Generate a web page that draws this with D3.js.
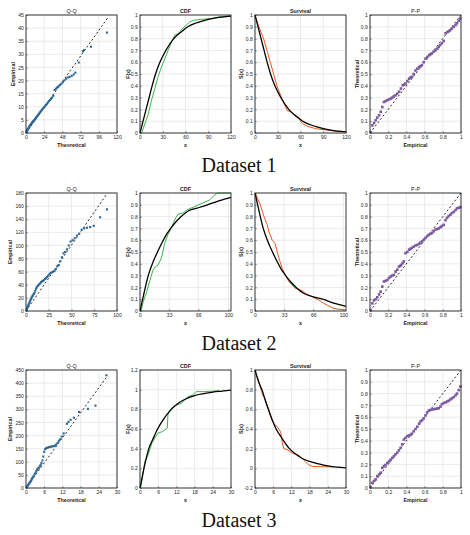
<!DOCTYPE html>
<html>
<head>
<meta charset="utf-8">
<script src="https://cdnjs.cloudflare.com/ajax/libs/d3/7.8.5/d3.min.js"></script>
<style>
  body { margin: 0; background: #fff; }
</style>
</head>
<body>
<div id="vis"></div>
<script>
// ---------------- data ----------------
const datasetNames = ['Dataset 1', 'Dataset 2', 'Dataset 3']
const panelTitles = ['Q-Q', 'CDF', 'Survival', 'P-P']

const unitTicks = [0, 0.1, 0.2, 0.3, 0.4, 0.5, 0.6, 0.7, 0.8, 0.9, 1]
const ppXTicks = [0, 0.2, 0.4, 0.6, 0.8, 1]

// Dataset 1
const qq1XTicks = [0, 24, 48, 72, 96, 120]
const qq1YTicks = [0, 5, 10, 15, 20, 25, 30, 35, 40, 45]
const qq1Ref = [[0, 0], [108, 44]]
const qq1Theoretical = [0.5, 1, 1.5, 2, 2.5, 3, 3.6, 4.2, 4.8, 5.4, 6, 6.7, 7.4, 8.1, 8.8, 9.5, 10.3, 11.1, 11.9, 12.7, 13.6, 14.5, 15.4, 16.3, 17.3, 18.3, 19.3, 20.4, 21.5, 22.6, 23.8, 25, 26.2, 27.5, 28.8, 30.2, 31.6, 33, 34.5, 36, 37.7, 39.4, 41.1, 42.9, 44.7, 46.6, 48.6, 50.7, 52.9, 55.2, 57.6, 60.2, 62.9, 65.1, 69.5, 75, 76.5, 85.7, 106.8]
const qq1Empirical = [0.3, 0.6, 0.9, 1.2, 1.5, 1.7, 2.0, 2.3, 2.6, 2.9, 3.1, 3.4, 3.7, 4.0, 4.2, 4.5, 4.7, 5.0, 5.3, 5.6, 6.0, 6.3, 6.6, 7.0, 7.4, 7.8, 8.2, 8.6, 9.0, 9.4, 9.8, 10.2, 10.7, 11.1, 11.6, 12.1, 12.6, 13.1, 13.5, 14.2, 16.4, 16.9, 17.4, 17.8, 18.3, 18.8, 19.4, 20.1, 20.7, 21.2, 21.4, 21.8, 22.3, 23.0, 26.9, 31.2, 31.6, 32.9, 38.3]
const cdf1XTicks = [0, 30, 60, 90, 120]
const cdf1ModelX = [0, 4, 8, 12, 16, 20.5, 25, 30, 35, 44.5, 55, 63, 73, 83, 100, 120]
const cdf1ModelF = [0, 0.1, 0.2, 0.3, 0.4, 0.5, 0.58, 0.65, 0.71, 0.8, 0.86, 0.9, 0.93, 0.95, 0.975, 0.99]
const cdf1EmpX = [2.2, 6.5, 10.9, 15.3, 19.7, 24, 28.4, 32.8, 37, 41.5, 45.9, 50.2, 56.8, 61, 65.5, 72, 80.8, 93.9, 107, 119]
const cdf1EmpF = [0, 0.08, 0.16, 0.28, 0.38, 0.48, 0.56, 0.63, 0.7, 0.77, 0.83, 0.84, 0.89, 0.915, 0.94, 0.957, 0.963, 0.97, 0.986, 0.994]
const surv1ModelS = [1, 0.9, 0.8, 0.7, 0.6, 0.5, 0.42, 0.35, 0.29, 0.2, 0.14, 0.1, 0.07, 0.05, 0.025, 0.01]
const surv1EmpX = [0, 0.9, 5.1, 11.8, 16.2, 20.6, 25, 29.4, 33.8, 38.2, 42.6, 47, 51.5, 58, 62.5, 69, 80, 97.6, 117]
const surv1EmpS = [1, 0.98, 0.9, 0.79, 0.69, 0.59, 0.49, 0.39, 0.32, 0.25, 0.19, 0.18, 0.15, 0.12, 0.08, 0.057, 0.037, 0.023, 0.008]
const pp1Empirical = [0.007, 0.026, 0.045, 0.062, 0.08, 0.1, 0.118, 0.135, 0.153, 0.17, 0.19, 0.21, 0.23, 0.245, 0.26, 0.28, 0.3, 0.32, 0.34, 0.36, 0.375, 0.39, 0.41, 0.43, 0.445, 0.46, 0.48, 0.5, 0.52, 0.54, 0.555, 0.57, 0.59, 0.61, 0.63, 0.65, 0.665, 0.68, 0.7, 0.72, 0.74, 0.755, 0.77, 0.79, 0.81, 0.83, 0.85, 0.865, 0.88, 0.9, 0.92, 0.94, 0.956, 0.975, 0.99]
const pp1Theoretical = [0.008, 0.065, 0.085, 0.108, 0.13, 0.15, 0.18, 0.22, 0.263, 0.27, 0.278, 0.285, 0.292, 0.3, 0.31, 0.32, 0.334, 0.35, 0.377, 0.405, 0.41, 0.42, 0.44, 0.46, 0.47, 0.476, 0.5, 0.53, 0.545, 0.56, 0.565, 0.575, 0.6, 0.63, 0.645, 0.66, 0.668, 0.674, 0.69, 0.7, 0.715, 0.73, 0.745, 0.76, 0.78, 0.845, 0.855, 0.862, 0.87, 0.885, 0.9, 0.915, 0.93, 0.95, 0.97]

// Dataset 2
const qq2XTicks = [0, 25, 50, 75, 100]
const qq2YTicks = [0, 20, 40, 60, 80, 100, 120, 140, 160, 180]
const qq2Ref = [[0, 0], [89, 179]]
const qq2Theoretical = [0.5, 1, 1.5, 2, 2.6, 3.2, 3.8, 4.4, 5, 5.7, 6.4, 7.1, 7.8, 8.6, 9.4, 10.2, 11, 11.8, 12.7, 13.6, 14.5, 15.5, 16.5, 17.5, 18.6, 19.7, 20.8, 22, 23.2, 24.4, 25.7, 27, 28.4, 29.8, 31.3, 32.8, 34.4, 36, 37.7, 39.4, 41.2, 43, 45, 47, 49, 51.2, 53.5, 56, 58.5, 61.2, 64, 67, 70.5, 74.5, 81.5, 89]
const qq2Empirical = [1, 3, 5, 7, 9, 11, 13, 15, 17, 19, 21, 23, 24, 26, 28, 31, 34, 36, 38, 39, 41, 42, 44, 45, 46, 47, 49, 50, 52, 54, 56, 58, 59, 60, 61, 64, 68, 70, 76, 82, 88, 90, 94, 100, 106, 108, 111, 115, 118, 124, 126, 127, 128, 130, 143, 155]
const cdf2XTicks = [0, 33, 66, 100]
const cdf2ModelX = [0, 3, 9.3, 15, 19.8, 25, 30, 34.7, 40, 46.6, 55, 66, 76.5, 90, 103]
const cdf2ModelF = [0, 0.1, 0.3, 0.42, 0.5, 0.58, 0.65, 0.7, 0.75, 0.8, 0.85, 0.875, 0.9, 0.935, 0.963]
const cdf2EmpX = [1.1, 3.7, 7.5, 11.2, 14.9, 16.8, 20.5, 24.3, 28, 31.7, 35.4, 39.2, 42.9, 48.5, 54, 63.4, 70.9, 78.4, 84, 87.7, 103]
const cdf2EmpF = [0, 0.08, 0.16, 0.26, 0.35, 0.37, 0.39, 0.45, 0.575, 0.65, 0.7, 0.77, 0.82, 0.83, 0.86, 0.89, 0.915, 0.94, 0.98, 1, 1]
const surv2ModelS = [1, 0.9, 0.7, 0.58, 0.5, 0.42, 0.35, 0.3, 0.25, 0.2, 0.15, 0.12, 0.1, 0.065, 0.04]
const surv2EmpX = [0, 0.75, 3.8, 6.4, 10.2, 13.9, 15.8, 19.5, 22.6, 25.2, 27.8, 30.8, 34.6, 38.3, 42.1, 45.9, 51.5, 57.1, 64.7, 72.2, 77.8, 81.6, 87.2, 92.9, 103]
const surv2EmpS = [1, 0.99, 0.94, 0.89, 0.8, 0.73, 0.67, 0.6, 0.575, 0.5, 0.43, 0.36, 0.3, 0.25, 0.22, 0.19, 0.18, 0.15, 0.12, 0.093, 0.065, 0.05, 0.028, 0.017, 0.008]
const pp2Empirical = [0.007, 0.026, 0.044, 0.062, 0.08, 0.1, 0.117, 0.135, 0.153, 0.17, 0.19, 0.21, 0.226, 0.245, 0.263, 0.28, 0.3, 0.318, 0.333, 0.343, 0.358, 0.372, 0.39, 0.41, 0.43, 0.445, 0.46, 0.48, 0.5, 0.52, 0.54, 0.555, 0.573, 0.59, 0.61, 0.63, 0.646, 0.665, 0.68, 0.7, 0.72, 0.74, 0.755, 0.775, 0.79, 0.81, 0.83, 0.847, 0.865, 0.883, 0.9, 0.92, 0.94, 0.956, 0.975, 0.993]
const pp2Theoretical = [0.008, 0.065, 0.09, 0.1, 0.116, 0.14, 0.164, 0.207, 0.25, 0.255, 0.263, 0.28, 0.292, 0.3, 0.306, 0.334, 0.35, 0.377, 0.382, 0.39, 0.405, 0.42, 0.49, 0.5, 0.52, 0.527, 0.535, 0.545, 0.555, 0.56, 0.57, 0.58, 0.59, 0.605, 0.62, 0.635, 0.646, 0.655, 0.66, 0.675, 0.69, 0.695, 0.7, 0.71, 0.72, 0.73, 0.77, 0.79, 0.805, 0.816, 0.83, 0.84, 0.855, 0.87, 0.875, 0.88]

// Dataset 3
const qq3XTicks = [0, 6, 12, 18, 24, 30]
const qq3YTicks = [0, 50, 100, 150, 200, 250, 300, 350, 400, 450]
const qq3Ref = [[0, 0], [26.5, 422]]
const qq3Theoretical = [0.2, 0.4, 0.6, 0.8, 1, 1.2, 1.4, 1.6, 1.8, 2, 2.2, 2.5, 2.8, 3.1, 3.4, 3.6, 3.9, 4.2, 4.5, 4.8, 5.1, 5.4, 5.7, 6, 6.3, 6.6, 6.9, 7.2, 7.6, 8, 8.4, 8.8, 9.2, 9.6, 10, 10.4, 10.8, 11.3, 11.8, 12.4, 13.5, 14, 14.7, 15.8, 17.5, 20.4, 22.9, 26.5]
const qq3Empirical = [3, 6, 10, 13, 17, 20, 23, 27, 31, 36, 40, 45, 52, 58, 64, 70, 74, 77, 82, 88, 95, 105, 120, 138, 148, 151, 153, 154, 156, 157, 158, 159, 160, 162, 166, 172, 180, 186, 196, 208, 245, 252, 260, 268, 290, 302, 314, 430]
const cdf3XTicks = [0, 6, 12, 18, 24, 30]
const cdf3YTicks = [0, 0.2, 0.4, 0.6, 0.8, 1, 1.2]
const surv3YTicks = [-0.2, 0, 0.2, 0.4, 0.6, 0.8, 1]
const cdf3ModelX = [0, 1.3, 2.9, 4.3, 5.8, 8, 10.3, 12.5, 14.7, 18, 21, 24, 27, 30]
const cdf3ModelF = [0, 0.2, 0.4, 0.5, 0.6, 0.71, 0.8, 0.86, 0.9, 0.94, 0.96, 0.975, 0.985, 0.995]
const cdf3EmpX = [0.2, 0.8, 1.6, 2.5, 3.3, 4, 5.1, 6, 7.1, 8.2, 9, 9.2, 9.6, 10.3, 12, 13.6, 14.7, 15.8, 17.4, 18.5, 21.2, 23.9, 26.1]
const cdf3EmpF = [0, 0.1, 0.27, 0.32, 0.4, 0.46, 0.52, 0.56, 0.57, 0.59, 0.61, 0.74, 0.78, 0.81, 0.845, 0.86, 0.895, 0.93, 0.945, 0.98, 0.98, 0.985, 0.99]
const surv3ModelX = [0, 1.2, 2.4, 3.4, 4.4, 5.6, 6.8, 9, 11.2, 13.4, 15.6, 18, 21, 24, 27, 30]
const surv3ModelS = [1, 0.88, 0.79, 0.69, 0.6, 0.5, 0.41, 0.3, 0.205, 0.145, 0.1, 0.07, 0.045, 0.025, 0.012, 0.004]
const surv3EmpX = [0, 0.4, 1.1, 1.5, 2.2, 2.7, 3.3, 3.8, 4.4, 5, 5.7, 6.6, 7.3, 8.1, 8.5, 9, 9.5, 10.6, 12.3, 13.4, 14.5, 15.6, 16.7, 17.7, 18.8, 22.1, 25.4]
const surv3EmpS = [1, 0.95, 0.9, 0.85, 0.78, 0.73, 0.71, 0.66, 0.61, 0.54, 0.48, 0.44, 0.425, 0.39, 0.36, 0.26, 0.2, 0.19, 0.155, 0.145, 0.13, 0.1, 0.063, 0.037, 0.02, 0.016, 0.016]
const pp3Empirical = [0.007, 0.026, 0.044, 0.062, 0.08, 0.1, 0.117, 0.135, 0.153, 0.17, 0.19, 0.21, 0.226, 0.245, 0.263, 0.28, 0.3, 0.318, 0.336, 0.354, 0.372, 0.39, 0.41, 0.43, 0.445, 0.46, 0.48, 0.5, 0.52, 0.54, 0.555, 0.573, 0.59, 0.61, 0.628, 0.645, 0.66, 0.68, 0.7, 0.72, 0.74, 0.755, 0.775, 0.79, 0.81, 0.83, 0.847, 0.865, 0.883, 0.9, 0.92, 0.94, 0.956, 0.975, 0.993]
const pp3Theoretical = [0.008, 0.045, 0.06, 0.073, 0.1, 0.115, 0.13, 0.17, 0.185, 0.195, 0.213, 0.225, 0.24, 0.255, 0.27, 0.285, 0.3, 0.32, 0.34, 0.37, 0.41, 0.425, 0.44, 0.445, 0.45, 0.46, 0.48, 0.5, 0.52, 0.545, 0.565, 0.575, 0.59, 0.615, 0.64, 0.655, 0.66, 0.665, 0.668, 0.67, 0.673, 0.677, 0.69, 0.71, 0.72, 0.725, 0.733, 0.74, 0.75, 0.76, 0.77, 0.785, 0.8, 0.83, 0.86]

// ---------------- layout / style ----------------
const outerWidth = 470
const outerHeight = 535
const colLeft = [26, 140, 255, 370]
const rowTop = [15, 193, 370]
const panelW = 91
const panelH = 118

const blue = '#2c6797'
const green = '#39b54a'
const orange = '#e8571f'
const purple = '#7d5aa0'
const gridGray = '#e2e2e2'
const frameColor = '#262626'
const textColor = '#222222'
const sans = 'Liberation Sans, Arial, Helvetica, sans-serif'

const zip = (a, b) => a.map((v, i) => [v, b[i]])
const fmt = d => String(+d.toFixed(2))

const svg = d3.select('#vis')
  .append('svg')
  .attr('width', outerWidth)
  .attr('height', outerHeight)

svg.append('rect')
  .attr('width', outerWidth)
  .attr('height', outerHeight)
  .style('fill', '#fff')

function drawPanel(o) {
  const g = svg.append('g').attr('transform', `translate(${o.left},${o.top})`)
  const x = d3.scaleLinear().domain(o.xDomain).range([0, panelW])
  const y = d3.scaleLinear().domain(o.yDomain).range([panelH, 0])

  // grid
  g.selectAll('.gx').data(o.xTicks).enter().append('line')
    .attr('x1', d => x(d)).attr('x2', d => x(d))
    .attr('y1', 0).attr('y2', panelH)
    .style('stroke', gridGray).style('stroke-width', 0.7)
  g.selectAll('.gy').data(o.yTicks).enter().append('line')
    .attr('x1', 0).attr('x2', panelW)
    .attr('y1', d => y(d)).attr('y2', d => y(d))
    .style('stroke', gridGray).style('stroke-width', 0.7)

  // axes (ticks point inward)
  const xAxisG = g.append('g')
    .attr('transform', `translate(0,${panelH})`)
    .call(d3.axisBottom(x).tickValues(o.xTicks).tickSize(-1.8).tickPadding(2).tickFormat(fmt))
  const yAxisG = g.append('g')
    .call(d3.axisLeft(y).tickValues(o.yTicks).tickSize(-1.8).tickPadding(2.2).tickFormat(fmt))
  ;[xAxisG, yAxisG].forEach(a => {
    a.select('.domain').remove()
    a.attr('font-size', 5).attr('font-family', sans)
    a.selectAll('text').style('fill', textColor)
    a.selectAll('line').style('stroke', frameColor).style('stroke-width', 0.5)
  })

  // marks
  const line = d3.line().x(d => x(d[0])).y(d => y(d[1]))
  const smooth = d3.line().x(d => x(d[0])).y(d => y(d[1])).curve(d3.curveMonotoneX)
  if (o.ref) {
    g.append('path').datum(o.ref)
      .attr('d', line)
      .style('fill', 'none').style('stroke', '#111')
      .style('stroke-width', 0.9).style('stroke-dasharray', '2,2.2')
  }
  if (o.points) {
    g.selectAll('.pt').data(o.points).enter().append('rect')
      .attr('x', d => x(d[0]) - o.size / 2)
      .attr('y', d => y(d[1]) - o.size / 2)
      .attr('width', o.size).attr('height', o.size)
      .style('fill', o.color)
  }
  if (o.emp) {
    g.append('path').datum(o.emp)
      .attr('d', line)
      .style('fill', 'none').style('stroke', o.color).style('stroke-width', 1)
  }
  if (o.model) {
    g.append('path').datum(o.model)
      .attr('d', smooth)
      .style('fill', 'none').style('stroke', '#000').style('stroke-width', 1.3)
  }

  // frame
  g.append('rect')
    .attr('width', panelW).attr('height', panelH)
    .style('fill', 'none').style('stroke', frameColor).style('stroke-width', 0.9)

  // title and axis labels
  g.append('text')
    .attr('x', panelW / 2).attr('y', -1.6)
    .style('text-anchor', 'middle')
    .style('font-family', sans).style('font-size', '5.4px')
    .style('font-weight', o.boldTitle ? 'bold' : 'normal')
    .style('fill', textColor)
    .text(o.title)
  g.append('text')
    .attr('x', panelW / 2).attr('y', panelH + 13.5)
    .style('text-anchor', 'middle')
    .style('font-family', sans).style('font-size', '5.3px').style('font-weight', 'bold')
    .style('fill', textColor)
    .text(o.xLabel)
  g.append('text')
    .attr('transform', `translate(${o.yLabelOffset},${panelH / 2}) rotate(-90)`)
    .attr('dy', '0.35em')
    .style('text-anchor', 'middle')
    .style('font-family', sans).style('font-size', '5.3px').style('font-weight', 'bold')
    .style('fill', textColor)
    .text(o.yLabel)
}

const rows = [
  {
    qq: { xDomain: [0, 120], yDomain: [0, 45], xTicks: qq1XTicks, yTicks: qq1YTicks, ref: qq1Ref, points: zip(qq1Theoretical, qq1Empirical) },
    cdf: { xDomain: [0, 120], yDomain: [0, 1], xTicks: cdf1XTicks, yTicks: unitTicks, model: zip(cdf1ModelX, cdf1ModelF), emp: zip(cdf1EmpX, cdf1EmpF) },
    surv: { xDomain: [0, 120], yDomain: [0, 1], xTicks: cdf1XTicks, yTicks: unitTicks, model: zip(cdf1ModelX, surv1ModelS), emp: zip(surv1EmpX, surv1EmpS) },
    pp: { points: zip(pp1Empirical, pp1Theoretical) },
    qqYLabelOffset: -13
  },
  {
    qq: { xDomain: [0, 100], yDomain: [0, 180], xTicks: qq2XTicks, yTicks: qq2YTicks, ref: qq2Ref, points: zip(qq2Theoretical, qq2Empirical) },
    cdf: { xDomain: [0, 103], yDomain: [0, 1], xTicks: cdf2XTicks, yTicks: unitTicks, model: zip(cdf2ModelX, cdf2ModelF), emp: zip(cdf2EmpX, cdf2EmpF) },
    surv: { xDomain: [0, 103], yDomain: [0, 1], xTicks: cdf2XTicks, yTicks: unitTicks, model: zip(cdf2ModelX, surv2ModelS), emp: zip(surv2EmpX, surv2EmpS) },
    pp: { points: zip(pp2Empirical, pp2Theoretical) },
    qqYLabelOffset: -16
  },
  {
    qq: { xDomain: [0, 30], yDomain: [0, 450], xTicks: qq3XTicks, yTicks: qq3YTicks, ref: qq3Ref, points: zip(qq3Theoretical, qq3Empirical) },
    cdf: { xDomain: [0, 30], yDomain: [0, 1.2], xTicks: cdf3XTicks, yTicks: cdf3YTicks, model: zip(cdf3ModelX, cdf3ModelF), emp: zip(cdf3EmpX, cdf3EmpF) },
    surv: { xDomain: [0, 30], yDomain: [-0.2, 1], xTicks: cdf3XTicks, yTicks: surv3YTicks, model: zip(surv3ModelX, surv3ModelS), emp: zip(surv3EmpX, surv3EmpS) },
    pp: { points: zip(pp3Empirical, pp3Theoretical) },
    qqYLabelOffset: -15.5
  }
]

rows.forEach((r, i) => {
  const top = rowTop[i]
  drawPanel(Object.assign({}, r.qq, {
    left: colLeft[0], top, title: panelTitles[0], boldTitle: false,
    xLabel: 'Theoretical', yLabel: 'Empirical', yLabelOffset: r.qqYLabelOffset,
    color: blue, size: 2.1
  }))
  drawPanel(Object.assign({}, r.cdf, {
    left: colLeft[1], top, title: panelTitles[1], boldTitle: true,
    xLabel: 'x', yLabel: 'F(x)', yLabelOffset: -12, color: green
  }))
  drawPanel(Object.assign({}, r.surv, {
    left: colLeft[2], top, title: panelTitles[2], boldTitle: true,
    xLabel: 'x', yLabel: 'S(x)', yLabelOffset: -13.5, color: orange
  }))
  drawPanel(Object.assign({}, r.pp, {
    left: colLeft[3], top, title: panelTitles[3], boldTitle: false,
    xDomain: [0, 1], yDomain: [0, 1], xTicks: ppXTicks, yTicks: unitTicks,
    ref: [[0, 0], [1, 1]],
    xLabel: 'Empirical', yLabel: 'Theoretical', yLabelOffset: -13.3,
    color: purple, size: 2.6
  }))

  svg.append('text')
    .attr('x', 239)
    .attr('y', top + 157)
    .style('text-anchor', 'middle')
    .style('font-family', 'Liberation Serif, Times New Roman, serif')
    .style('font-size', '20px')
    .style('fill', '#111')
    .text(datasetNames[i])
})
</script>
</body>
</html>
